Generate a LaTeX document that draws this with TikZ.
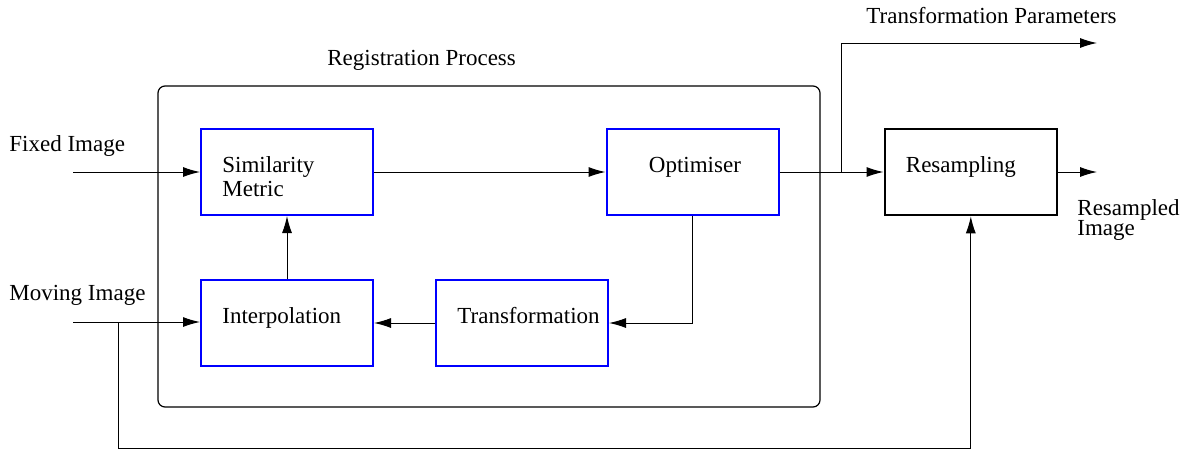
\documentclass[tikz,border=0pt]{standalone}
\usepackage{fontspec}
\setmainfont{Liberation Serif}
\usetikzlibrary{arrows.meta, positioning}

\begin{document}
\begin{tikzpicture}[
	x=0.5pt, y=-0.5pt,
	nodes = {
		font=\fontsize{11.5}{12}\selectfont
	},
	lines/.style={
		line width=0.5pt,
		>={Latex[length=8.5pt,width=5pt]}
	},
	stage/.style={
		rectangle,
		draw=blue,
		line width=1pt,
		minimum width=86pt,
		minimum height=43pt,
		inner sep=0pt
	},
	outstage/.style={
		stage,
		draw=black,
		line width=1.3pt
	},
	regbox/.style={
		rectangle,
		draw=black,
		rounded corners=3.5pt,
		line width=0.6pt,
		minimum width=331pt,
		minimum height=160.5pt
	},
	lbl/.style={
		inner sep=0pt,
		anchor=base west,
		align=left
	}
]
	\useasboundingbox (0,0) rectangle (1192,450);

	\node[regbox] (reg) at (489,246.5) {};
	\node[lbl] (regtxt) at (327,65) {Registration Process};

	\node[stage] (sim) at (287,172) {};
	\node[stage] (interp) [below=31.5pt of sim] {};
	\node[stage] (trans) [right=30.5pt of interp] {};
	\node[stage] (opt) at (692.5,172) {};
	\node[outstage] (resamp) [right=52pt of opt] {};

	% last line sits on the base anchor
	\node[lbl] (simtxt) at ([xshift=11pt,yshift=-12pt]sim.west) {Similarity\\Metric};
	\node[lbl] (interptxt) at ([xshift=11pt]interp.west) {Interpolation};
	\node[lbl] (transtxt) at ([xshift=11pt]trans.west) {Transformation};
	\node[lbl] (opttxt) at ([xshift=21.5pt]opt.west) {Optimiser};
	\node[lbl] (resamptxt) at ([xshift=11pt]resamp.west) {Resampling};
	%%
	\node[lbl] (fixedtxt) at (9,151) {Fixed Image};
	\node[lbl] (movingtxt) at (9,300) {Moving Image};
	\node[lbl] (paramtxt) at (866,23) {Transformation Parameters};
	\node[lbl, font=\fontsize{11.5}{10}\selectfont] (outtxt) at (1077,235) {Resampled\\Image};

	\coordinate (fixedin) at (73,172);
	\coordinate (movingin) at (73,322);
	\coordinate (tap) at (118,322);
	\coordinate (loop) at (118,448);
	\coordinate (branch) at (841,172);
	\coordinate (paramout) at (1097,43);
	\coordinate (resout) at (1097,172);

	\draw[lines,->] (fixedin) -- (sim);
	\draw[lines,->] (movingin) -- (movingin -| interp.west);
	\draw[lines,->] (tap) -- (loop) -| (resamp.south);

	\draw[lines,->] (sim) -- (opt);
	\draw[lines,->] (opt) -- (resamp);
	\draw[lines,->] (branch) |- (paramout);
	\draw[lines,->] (resamp) -- (resout);

	\draw[lines,->] (opt.south) |- (trans.east);
	\draw[lines,->] (trans) -- (interp);
	\draw[lines,->] (interp) -- (sim);
\end{tikzpicture}
\end{document}
